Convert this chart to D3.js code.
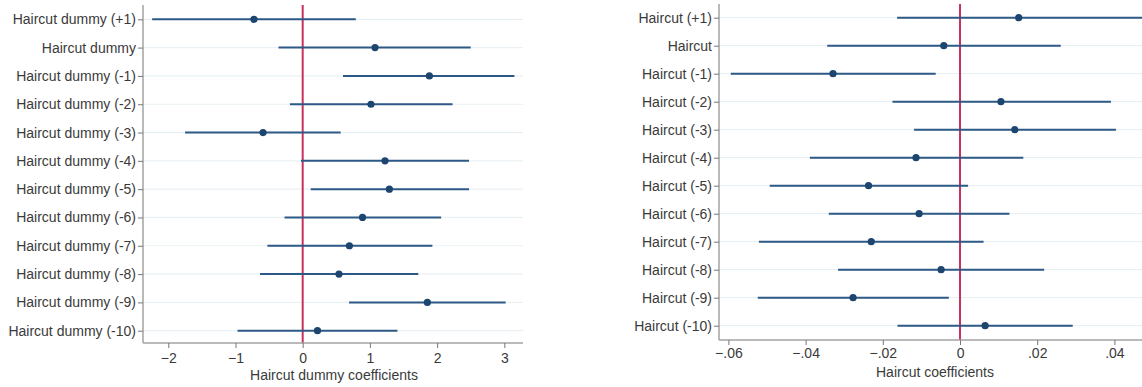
<!DOCTYPE html>
<html>
<head>
<meta charset="utf-8">
<script src="https://cdn.jsdelivr.net/npm/d3@7"></script>
<style>
body{margin:0;background:#fff;}
text{font-family:"Liberation Sans",Arial,sans-serif;fill:#3a3a3a;}
</style>
</head>
<body>
<div id="chart"></div>
<script>
// left panel: haircut dummy
var leftLabels = ['Haircut dummy (+1)','Haircut dummy','Haircut dummy (-1)','Haircut dummy (-2)','Haircut dummy (-3)',
    'Haircut dummy (-4)','Haircut dummy (-5)','Haircut dummy (-6)','Haircut dummy (-7)','Haircut dummy (-8)',
    'Haircut dummy (-9)','Haircut dummy (-10)'];
var leftCoef = [-0.725, 1.076, 1.885, 1.016, -0.59, 1.225, 1.29, 0.89, 0.695, 0.54, 1.855, 0.22];
var leftLo   = [-2.24, -0.36, 0.60, -0.19, -1.75, -0.025, 0.12, -0.27, -0.525, -0.635, 0.69, -0.97];
var leftHi   = [0.79, 2.50, 3.15, 2.23, 0.565, 2.475, 2.475, 2.06, 1.93, 1.72, 3.02, 1.41];
var leftTicks = [-2, -1, 0, 1, 2, 3];

// right panel: haircut
var rightLabels = ['Haircut (+1)','Haircut','Haircut (-1)','Haircut (-2)','Haircut (-3)','Haircut (-4)',
    'Haircut (-5)','Haircut (-6)','Haircut (-7)','Haircut (-8)','Haircut (-9)','Haircut (-10)'];
var rightCoef = [0.0152, -0.0042, -0.0329, 0.0106, 0.0142, -0.0114, -0.0237, -0.0106, -0.0230, -0.0049, -0.0277, 0.0065];
var rightLo   = [-0.0163, -0.0344, -0.0594, -0.0175, -0.0119, -0.0389, -0.0493, -0.034, -0.0521, -0.0316, -0.0524, -0.0162];
var rightHi   = [0.050, 0.0261, -0.0063, 0.0391, 0.0404, 0.0164, 0.0021, 0.0128, 0.0061, 0.0218, -0.0029, 0.0292];
var rightTicks = [-0.06, -0.04, -0.02, 0, 0.02, 0.04];

var svg = d3.select("#chart").append("svg").attr("width", 1142).attr("height", 387);

var lineCol = "#2c5985", dotCol = "#1c4570", refCol = "#c9305c", gridCol = "#eaf1f5", axisCol = "#a3a3a3";
var fs = "14px";

function panel(o){
    var x = d3.scaleLinear().domain(o.domain).range([o.x0, o.x1]);
    var y = d3.scalePoint().domain(o.labels).range([o.yFirst, o.yLast]);
    var rows = o.labels.map(function(l, i){ return {label:l, b:o.coef[i], lo:o.lo[i], hi:o.hi[i]}; });
    var g = svg.append("g");

    g.selectAll(".grid").data(rows).enter().append("line")
        .attr("x1", o.x0).attr("x2", o.x1)
        .attr("y1", d=>y(d.label)).attr("y2", d=>y(d.label))
        .attr("stroke", gridCol).attr("stroke-width", 1.2);

    g.append("line").attr("x1", x(0)).attr("x2", x(0)).attr("y1", o.yTop).attr("y2", o.yBot)
        .attr("stroke", refCol).attr("stroke-width", 2);

    g.selectAll(".ci").data(rows).enter().append("line")
        .attr("x1", d=>x(d.lo)).attr("x2", d=>x(d.hi))
        .attr("y1", d=>y(d.label)).attr("y2", d=>y(d.label))
        .attr("stroke", lineCol).attr("stroke-width", 2);

    g.selectAll(".pt").data(rows).enter().append("circle")
        .attr("cx", d=>x(d.b)).attr("cy", d=>y(d.label)).attr("r", 3.6)
        .attr("fill", dotCol);

    var yAx = g.append("g").attr("transform", "translate(" + o.x0 + ",0)")
        .call(d3.axisLeft(y).tickSize(5).tickPadding(2));
    yAx.select(".domain").attr("d", "M0," + o.yTop + "V" + o.yBot).attr("stroke", axisCol).attr("stroke-width", 1.5);
    yAx.selectAll(".tick line").attr("stroke", "#777");
    yAx.selectAll("text").attr("font-size", fs).attr("fill", "#3a3a3a");

    var xAx = g.append("g").attr("transform", "translate(0," + o.yBot + ")")
        .call(d3.axisBottom(x).tickValues(o.ticks).tickSize(5).tickPadding(o.pad).tickFormat(o.fmt));
    xAx.select(".domain").attr("d", "M" + o.x0 + ",0H" + o.x1).attr("stroke", axisCol).attr("stroke-width", 1.5);
    xAx.selectAll(".tick line").attr("stroke", "#777");
    xAx.selectAll("text").attr("font-size", fs).attr("fill", "#3a3a3a");

    g.append("text").attr("x", o.titleX).attr("y", o.titleY).attr("text-anchor", "middle")
        .attr("font-size", fs).text(o.title);
}

panel({labels:leftLabels, coef:leftCoef, lo:leftLo, hi:leftHi, ticks:leftTicks,
    domain:[-2.376, 3.278], x0:143, x1:523, yTop:5, yBot:343, yFirst:19.3, yLast:330.7,
    pad:5, fmt:d3.format("d"), title:"Haircut dummy coefficients", titleX:334, titleY:380});

panel({labels:rightLabels, coef:rightCoef, lo:rightLo, hi:rightHi, ticks:rightTicks,
    domain:[-0.06244, 0.05181], x0:719, x1:1160, yTop:4, yBot:340, yFirst:17.7, yLast:325.7,
    pad:3, fmt:function(v){ return v == 0 ? "0" : d3.format(".2f")(v).replace("0.", "."); },
    title:"Haircut coefficients", titleX:935, titleY:377});
</script>
</body>
</html>
